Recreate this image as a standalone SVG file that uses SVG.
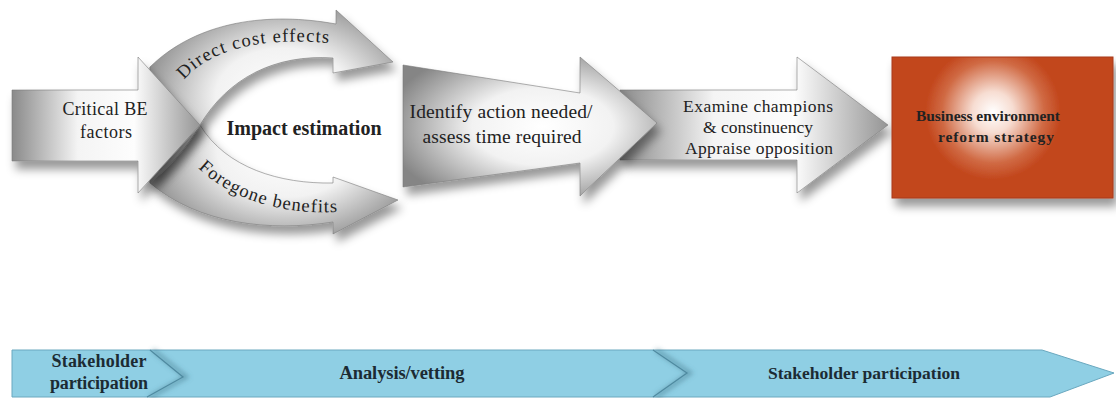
<svg xmlns="http://www.w3.org/2000/svg" width="1116" height="398" viewBox="0 0 1116 398">
<defs>
<radialGradient id="metal" cx="55%" cy="50%" r="62%">
<stop offset="0" stop-color="#ffffff"/>
<stop offset="0.45" stop-color="#f2f2f2"/>
<stop offset="1" stop-color="#858585"/>
</radialGradient>
<linearGradient id="metalH" x1="0" y1="0" x2="1" y2="0">
<stop offset="0" stop-color="#8a8a8a"/>
<stop offset="0.35" stop-color="#f4f4f4"/>
<stop offset="0.65" stop-color="#fdfdfd"/>
<stop offset="1" stop-color="#959595"/>
</linearGradient>
<radialGradient id="redglow" gradientUnits="userSpaceOnUse" cx="993" cy="112" r="68">
<stop offset="0" stop-color="#ffffff"/>
<stop offset="0.3" stop-color="#f7ddd2"/>
<stop offset="0.75" stop-color="#d06a44"/>
<stop offset="1" stop-color="#c2461c"/>
</radialGradient>
<filter id="shadow" x="-20%" y="-20%" width="150%" height="160%">
<feDropShadow dx="4" dy="8" stdDeviation="5" flood-color="#000" flood-opacity="0.4"/>
</filter>
<filter id="blur2" x="-50%" y="-20%" width="200%" height="140%">
<feGaussianBlur stdDeviation="2.5"/>
</filter>
<style>
.shape{stroke:#7a7a7a;stroke-width:0.6;filter:url(#shadow)}
.t{font-family:"Liberation Serif",serif;fill:#222;text-anchor:middle}
.tp{font-family:"Liberation Serif",serif;fill:#222;text-anchor:start}
.b{font-weight:bold}
.band{font-family:"Liberation Serif",serif;fill:#1c2b33;font-weight:bold;text-anchor:middle}
</style>
</defs>

<g id="foregone-benefits">
<path class="shape" fill="url(#metal)" d="M150,67 C170,84 187,102 200,125 C226,168 280,184 333,183 L333,177 L398,200 L333,234 L333,222 C270,232 198,224 150,183 Z"/>
<path id="pathFB" d="M198,168 C232,200 282,215 340,212" fill="none"/>
<text class="tp" font-size="18.5" textLength="150" lengthAdjust="spacing"><textPath href="#pathFB">Foregone benefits</textPath></text>
</g>

<g id="direct-cost-effects">
<path class="shape" fill="url(#metal)" d="M150,67 C198,20 270,12 336,24 L336,10 L393,62 L333,73 L333,58 C275,54 228,78 200,125 C187,148 170,166 150,183 Z"/>
<path id="pathDC" d="M184,80 C212,47 268,36 338,44" fill="none"/>
<text class="tp" font-size="18.5" textLength="155" lengthAdjust="spacing"><textPath href="#pathDC">Direct cost effects</textPath></text>
</g>

<g id="critical-be-factors">
<polygon class="shape" fill="url(#metalH)" points="12,90 138,90 138,57 200,125 138,193 138,161 12,161"/>
<text class="t" x="105" y="115" font-size="18" textLength="85" lengthAdjust="spacing">Critical BE</text>
<text class="t" x="106" y="138" font-size="18" textLength="52" lengthAdjust="spacing">factors</text>
</g>

<g id="impact-estimation">
<text class="t b" x="304" y="135" font-size="20" textLength="155" lengthAdjust="spacing">Impact estimation</text>
</g>

<g id="examine-champions">
<polygon class="shape" fill="url(#metalH)" points="620,90 797,90 797,57 888,125 797,193 797,160 620,160"/>
<text class="t" x="758" y="112" font-size="17.5" textLength="150" lengthAdjust="spacing">Examine champions</text>
<text class="t" x="758" y="133" font-size="17.5" textLength="110" lengthAdjust="spacing">&amp; constinuency</text>
<text class="t" x="759" y="154" font-size="17.5" textLength="148" lengthAdjust="spacing">Appraise opposition</text>
</g>

<g id="identify-action">
<polygon class="shape" fill="url(#metal)" points="403,65 580,93 580,57 657,123 580,196 580,163 403,187"/>
<text class="t" x="501" y="118" font-size="19.5" textLength="183" lengthAdjust="spacing">Identify action needed/</text>
<text class="t" x="502" y="143" font-size="19.5" textLength="159" lengthAdjust="spacing">assess time required</text>
</g>

<g id="reform-strategy">
<rect x="892" y="57" width="221" height="141" fill="url(#redglow)" stroke="#a8391a" stroke-width="1" filter="url(#shadow)"/>
<text class="t b" x="988" y="121" font-size="15.5" fill="#2a1208" textLength="144" lengthAdjust="spacing">Business environment</text>
<text class="t b" x="996" y="142" font-size="15.5" fill="#2a1208" textLength="116" lengthAdjust="spacing">reform strategy</text>
</g>

<g id="phase-band">
<polygon points="12,350 1042,350 1114,373 1050,397 12,397" fill="#8fcfe4" stroke="#6aa8bf" stroke-width="1"/>
<path d="M153,350 L186,377 L150,397 M656,350 L690,373 L656,397" fill="none" stroke="#3d6f84" stroke-width="4" stroke-opacity="0.5" filter="url(#blur2)"/>
<path d="M150,350 L183,377 L147,397 M653,350 L687,373 L653,397" fill="none" stroke="#4f8aa0" stroke-width="1.2"/>
<text class="band" x="99" y="367" font-size="18" textLength="95" lengthAdjust="spacing">Stakeholder</text>
<text class="band" x="99" y="389" font-size="18" textLength="98" lengthAdjust="spacing">participation</text>
<text class="band" x="402" y="379" font-size="18.5" textLength="125" lengthAdjust="spacing">Analysis/vetting</text>
<text class="band" x="864" y="379" font-size="17.5" textLength="192" lengthAdjust="spacing">Stakeholder participation</text>
</g>
</svg>
